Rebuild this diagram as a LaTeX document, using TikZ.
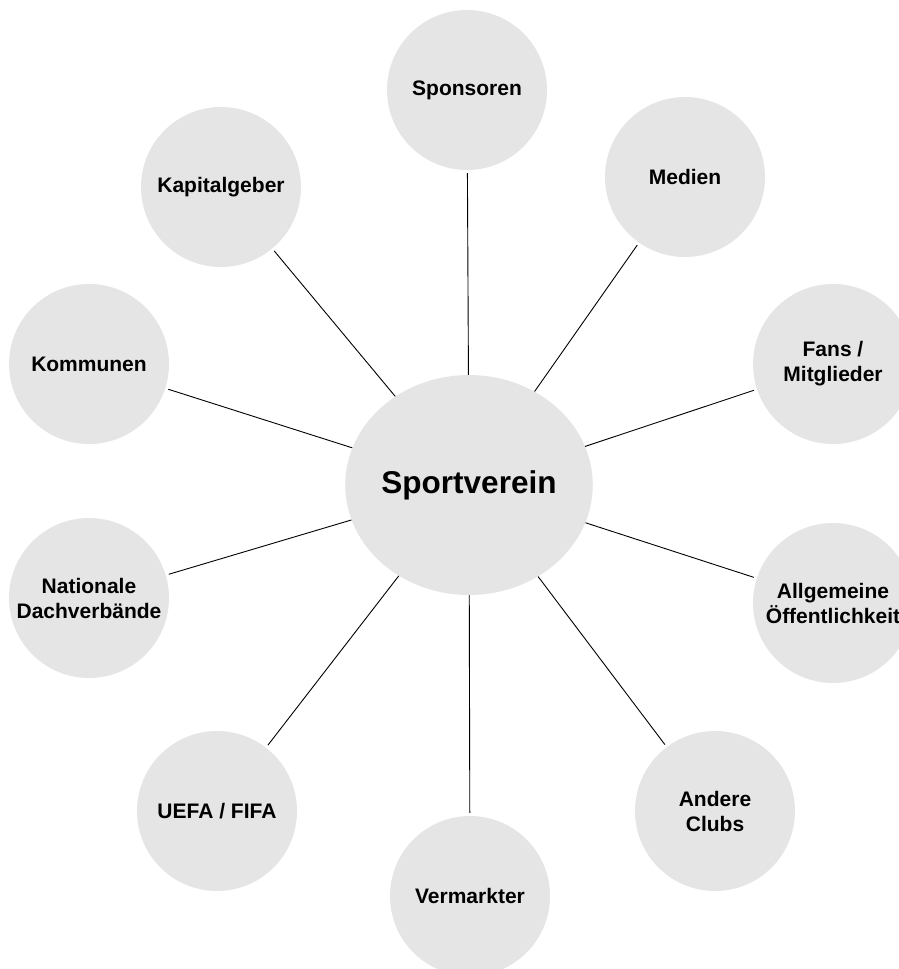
\documentclass[tikz,border=0pt]{standalone}
\usepackage{fontspec}
\setmainfont{Liberation Sans}
\usetikzlibrary{shapes.geometric}
\definecolor{discfill}{RGB}{229,229,229}
\begin{document}
\begin{tikzpicture}[x=1pt,y=-1pt,
  hub/.style={ellipse,fill=discfill,inner sep=0pt,minimum width=234pt,minimum height=220pt,
    font=\fontsize{31.5}{36}\selectfont\bfseries},
  party/.style={circle,fill=discfill,inner sep=0pt,minimum size=160pt,align=center,
    font=\fontsize{21}{25}\selectfont\bfseries},
  link/.style={line width=0.9pt,black,shorten >=3pt}]
\useasboundingbox (0,0) rectangle (899,969);
\clip (0,0) rectangle (899,969);
% central club
\node[hub] (sv) at (469,485) {Sportverein};
% stakeholders around it
\node[party] (sp) at (467,90)  {Sponsoren};
\node[party] (me) at (685,177) {Medien};
\node[party] (fa) at (833,364) {Fans /\\Mitglieder};
\node[party] (al) at (833,603) {Allgemeine\\Öffentlichkeit};
\node[party] (an) at (715,811) {Andere\\Clubs};
\node[party] (ve) at (470,896) {Vermarkter};
\node[party] (ue) at (217,811) {UEFA / FIFA};
\node[party] (na) at (89,598)  {Nationale\\Dachverbände};
\node[party] (ko) at (89,364)  {Kommunen};
\node[party] (ka) at (221,187) {Kapitalgeber};
% spokes
\foreach \t in {sp,me,fa,al,an,ve,ue,na,ko,ka}
  \draw[link] (sv) -- (\t);
\end{tikzpicture}
\end{document}
